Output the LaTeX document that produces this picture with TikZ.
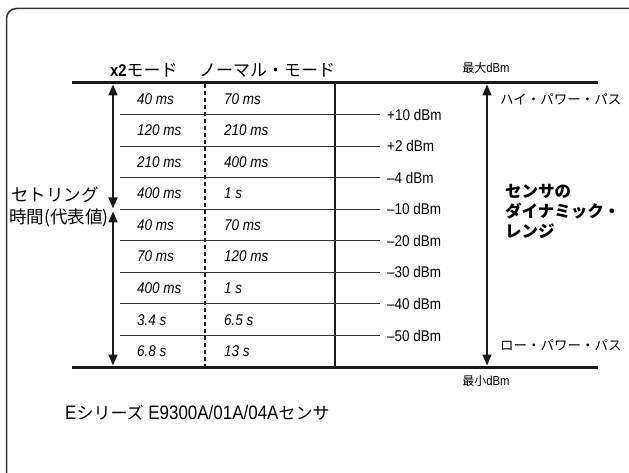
\documentclass[tikz,border=0pt]{standalone}
\usepackage{fontspec}
\setmainfont{Liberation Sans}
\newfontfamily\cond[FakeStretch=0.87]{Liberation Sans}
\newfontfamily\jp{Noto Sans CJK JP}
\usetikzlibrary{arrows.meta}
\begin{document}
\begin{tikzpicture}[x=1pt,y=-1pt,
  heavy/.style={line width=3pt, color=black!90},
  vrule/.style={line width=2.4pt, color=black!90},
  dashrule/.style={line width=1.6pt, color=black!90, dash pattern=on 4pt off 3pt},
  sepline/.style={line width=0.9pt, color=black!80},
  dbl/.style={line width=1.6pt, color=black!90, {Triangle[width=9pt,length=11pt]}-{Triangle[width=9pt,length=11pt]}},
  timetxt/.style={font=\cond\fontsize{15.5}{17}\selectfont\itshape, anchor=west, inner sep=0pt},
  dbmtxt/.style={font=\cond\fontsize{15.5}{17}\selectfont, anchor=west, inner sep=0pt},
  smalltxt/.style={font=\cond\fontsize{13}{15}\selectfont, anchor=center, inner sep=0pt},
  pathtxt/.style={font=\jp\fontsize{13.5}{15}\selectfont, anchor=west, inner sep=0pt},
  headtxt/.style={font=\jp\fontsize{17}{19}\selectfont, anchor=west, inner sep=0pt},
  lefttxt/.style={font=\jp\fontsize{17.5}{19}\selectfont, anchor=west, inner sep=0pt},
  rangetxt/.style={font=\jp\bfseries\fontsize{16.5}{20}\selectfont, anchor=north west, inner sep=0pt, align=left},
  titletxt/.style={font=\cond\fontsize{19.5}{22}\selectfont, anchor=west, inner sep=0pt}
]
\useasboundingbox (0,0) rectangle (629,473);
\clip (0,0) rectangle (629,473);
\draw[line width=1.5pt, black!80, rounded corners=10pt] (6.5,8.5) rectangle (640,482);

% main rules
\coordinate (TL) at (72,83);  \coordinate (TR) at (598,83);
\coordinate (BL) at (72,367); \coordinate (BR) at (598,367);
\draw[heavy] (TL) -- (TR);
\draw[heavy] (BL) -- (BR);
\coordinate (VT) at (335,83); \coordinate (VB) at (335,367);
\draw[vrule] (VT) -- (VB);
\coordinate (DT) at (205,84); \coordinate (DB) at (205,366);
\draw[dashrule] (DT) -- (DB);

% row separators and dBm labels
\foreach \lab [count=\i] in {+10 dBm,+2 dBm,–4 dBm,–10 dBm,–20 dBm,–30 dBm,–40 dBm,–50 dBm}{
  \coordinate (SL\i) at (120,{83+31.56*\i});
  \coordinate (SR\i) at (380,{83+31.56*\i});
  \draw[sepline] (SL\i) -- (SR\i);
  \node[dbmtxt] (db\i) at (387,{83+31.56*\i}) {\lab};
}

% settling times
\foreach \a/\b [count=\i from 0] in {40 ms/70 ms,120 ms/210 ms,210 ms/400 ms,400 ms/1 s,40 ms/70 ms,70 ms/120 ms,400 ms/1 s,3.4 s/6.5 s,6.8 s/13 s}{
  \node[timetxt] (ta\i) at (137,{83+31.56*(\i+0.5)}) {\a};
  \node[timetxt] (tb\i) at (224,{83+31.56*(\i+0.5)}) {\b};
}

% headers
\node[headtxt] (hx2) at (110,70) {{\cond\bfseries\fontsize{17}{19}\selectfont x2}モード};
\node[headtxt] (hnm) at (199,70) {ノーマル・モード};
\node[smalltxt] (maxd) at (486,68) {{\jp\fontsize{12}{14}\selectfont 最大}dBm};
\node[smalltxt] (mind) at (486,381) {{\jp\fontsize{12}{14}\selectfont 最小}dBm};

% left arrows
\coordinate (A1t) at (113,84.5); \coordinate (A1b) at (113,208.5);
\coordinate (A2t) at (113,211.5); \coordinate (A2b) at (113,365.5);
\draw[dbl] (A1t) -- (A1b);
\draw[dbl] (A2t) -- (A2b);
\node[lefttxt] (st1) at (11,195) {セトリング};
\node[lefttxt] (st2) at (9,218) {時間(代表値)};

% right arrow
\coordinate (Rt) at (487,84.5); \coordinate (Rb) at (487,365.5);
\draw[dbl] (Rt) -- (Rb);
\node[pathtxt] (hp) at (500,99) {ハイ・パワー・パス};
\node[pathtxt] (lp) at (500,345) {ロー・パワー・パス};
\node[rangetxt] (rng) at (505,184) {センサの\\ダイナミック・\\レンジ};

% title
\node[titletxt] (ttl) at (65,413) {E{\jp\fontsize{17}{20}\selectfont シリーズ} E9300A/01A/04A{\jp\fontsize{17}{20}\selectfont センサ}};
\end{tikzpicture}
\end{document}
